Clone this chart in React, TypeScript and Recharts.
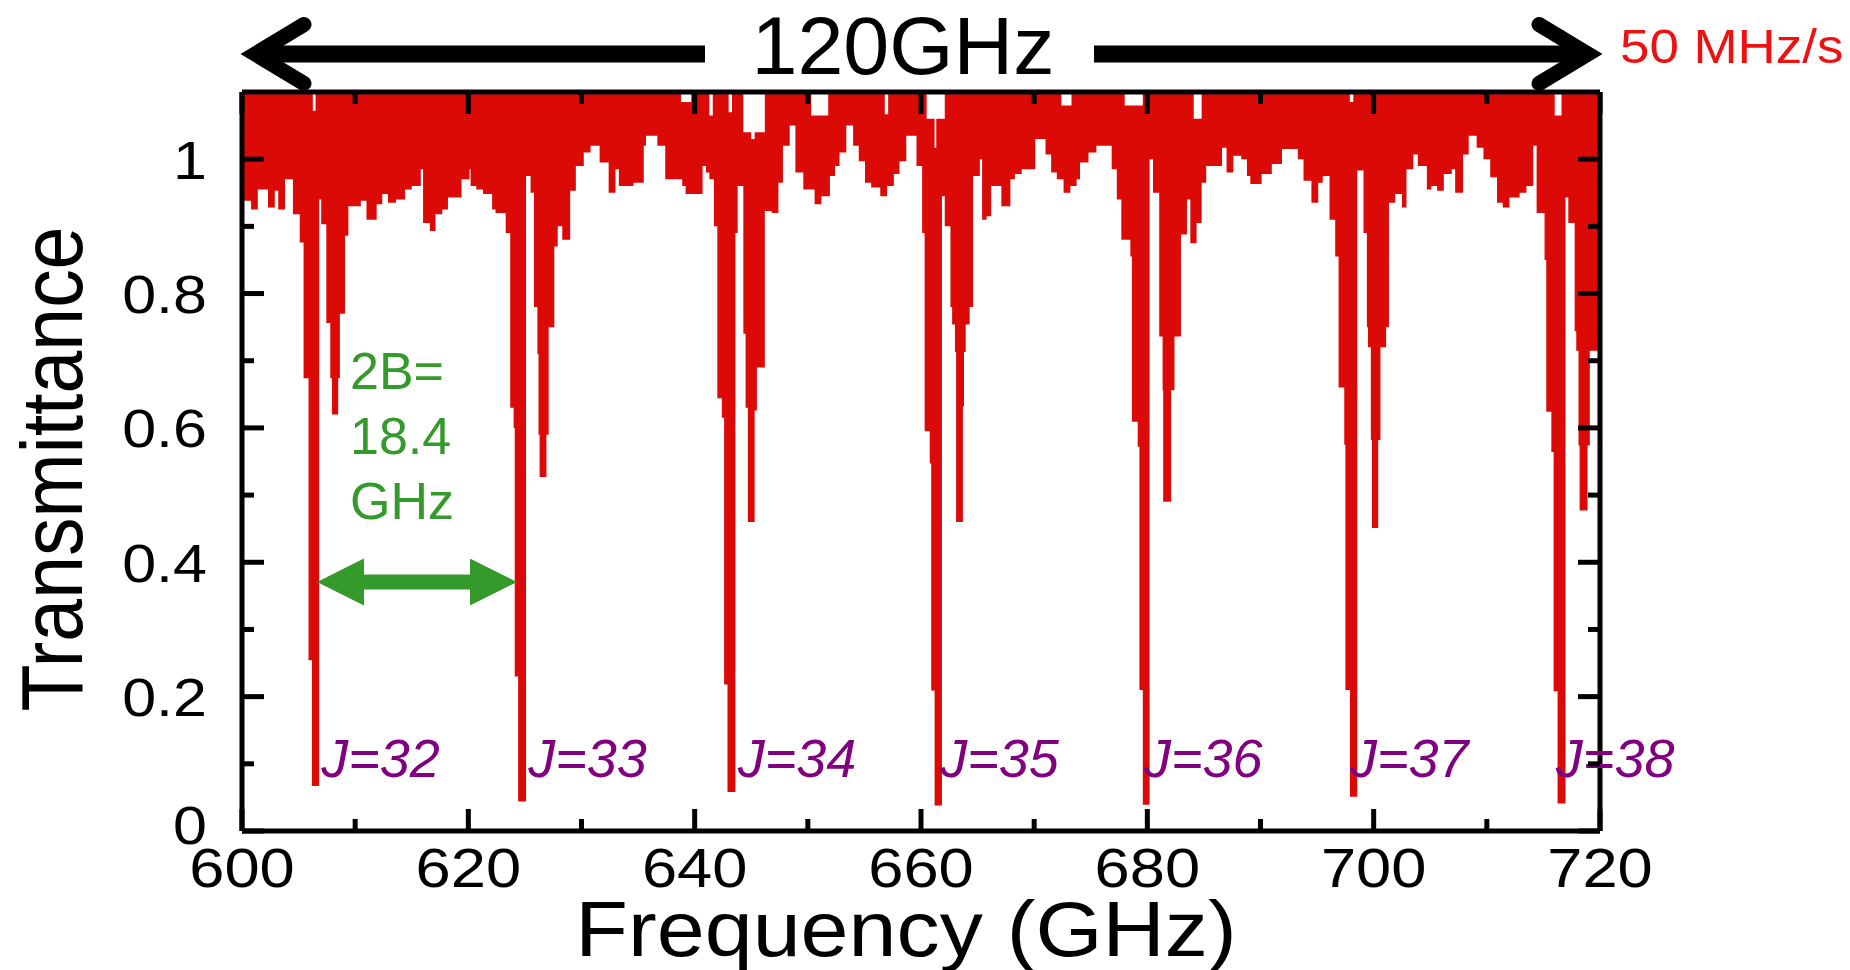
import React from "react";
import { AreaChart, Area, XAxis, YAxis, ReferenceDot } from "recharts";

// lower edge of the red band, as steps (GHz -> transmittance)
const dipFreqs = [
  600.0, 600.8, 601.4, 602.3, 602.9, 603.2, 603.8, 604.5, 605.1, 605.44, 605.88, 606.18, 606.82, 607.0, 607.45,
  607.8, 607.95, 608.5, 608.65, 609.1, 609.4, 610.5, 611.0, 611.9, 612.4, 612.9, 613.6, 614.4, 615.0, 615.8,
  616.0, 616.6, 617.1, 617.7, 618.2, 619.4, 620.1, 620.2, 620.7, 621.3, 622.1, 622.4, 623.3, 623.7, 624.0,
  624.1, 624.4, 625.1, 625.5, 625.8, 626.1, 626.2, 626.3, 626.9, 627.1, 627.6, 627.9, 628.3, 629.0, 629.5,
  630.2, 630.8, 631.6, 632.4, 633.0, 633.3, 634.6, 635.5, 635.7, 636.7, 637.4, 638.9, 639.2, 640.7, 641.0,
  641.3, 641.7, 642.0, 642.4, 642.6, 642.9, 643.6, 643.8, 644.3, 644.5, 644.7, 645.3, 645.5, 646.2, 646.8,
  647.4, 647.8, 648.4, 648.9, 649.6, 650.6, 651.2, 651.95, 652.4, 652.8, 653.4, 654.0, 654.5, 655.05, 655.6,
  656.4, 657.0, 657.6, 658.1, 658.7, 659.6, 660.1, 660.32, 660.77, 660.9, 661.2, 661.85, 662.1, 662.6, 662.75,
  663.0, 663.1, 663.7, 663.8, 663.95, 664.3, 664.6, 665.2, 665.4, 665.8, 666.2, 667.1, 667.9, 668.3, 668.9,
  670.1, 671.0, 671.5, 672.0, 672.6, 673.2, 673.75, 674.05, 674.8, 675.5, 676.85, 677.3, 677.7, 678.5, 678.64,
  679.15, 679.3, 679.6, 680.2, 680.5, 681.05, 681.35, 681.4, 682.1, 682.4, 682.97, 683.5, 683.8, 684.35, 684.8,
  685.2, 686.6, 687.0, 687.6, 688.3, 688.8, 689.1, 690.1, 691.0, 691.9, 693.3, 693.8, 694.5, 695.1, 695.5,
  696.1, 696.6, 696.9, 697.4, 697.5, 697.9, 698.55, 699.1, 699.4, 699.5, 699.75, 699.85, 700.4, 700.6, 701.1,
  701.35, 701.9, 702.5, 702.9, 703.5, 703.9, 704.7, 705.1, 705.6, 706.2, 706.9, 707.2, 707.9, 708.4, 709.1,
  709.7, 710.3, 710.9, 711.4, 712.0, 712.9, 713.5, 714.1, 714.4, 715.1, 715.25, 715.7, 715.9, 716.25, 716.95,
  717.2, 717.76, 717.9, 718.1, 718.2, 718.9, 719.1, 720.0,
];
const dipLevels = [
  0.938, 0.925, 0.955, 0.928, 0.953, 0.925, 0.97, 0.918, 0.876, 0.674, 0.254, 0.067, 0.94, 0.903, 0.756,
  0.674, 0.62, 0.674, 0.77, 0.886, 0.93, 0.938, 0.91, 0.933, 0.948, 0.935, 0.94, 0.955, 0.96, 0.985,
  0.905, 0.893, 0.918, 0.925, 0.943, 0.97, 0.985, 0.96, 0.955, 0.948, 0.925, 0.92, 0.89, 0.63, 0.6,
  0.23, 0.044, 0.975, 0.95, 0.78, 0.71, 0.59, 0.527, 0.59, 0.75, 0.87, 0.9, 0.88, 0.953, 0.99,
  1.01, 1.02, 0.995, 0.95, 0.985, 0.96, 0.965, 1.02, 1.035, 1.02, 0.97, 0.96, 0.948, 0.99, 0.98,
  0.97, 0.9, 0.644, 0.615, 0.218, 0.058, 0.89, 0.96, 0.74, 0.63, 0.46, 0.626, 0.69, 0.923, 0.92,
  0.965, 1.02, 1.05, 0.98, 0.955, 0.933, 0.945, 0.975, 0.99, 1.01, 1.05, 1.02, 0.997, 0.965, 0.958,
  0.945, 0.96, 0.978, 0.997, 1.035, 0.99, 0.89, 0.595, 0.547, 0.209, 0.038, 0.945, 0.9, 0.78, 0.754,
  0.713, 0.46, 0.632, 0.713, 0.754, 0.78, 0.975, 1.0, 0.91, 0.915, 0.96, 0.93, 0.97, 0.978, 0.985,
  1.03, 1.007, 0.98, 0.97, 0.95, 0.96, 0.97, 0.995, 1.01, 1.02, 0.985, 0.94, 0.88, 0.855, 0.609,
  0.572, 0.21, 0.039, 1.0, 0.95, 0.736, 0.656, 0.49, 0.656, 0.736, 0.888, 0.94, 0.875, 0.905, 0.965,
  0.99, 1.017, 0.98, 1.005, 1.0, 0.975, 0.963, 0.978, 0.993, 1.015, 1.0, 0.968, 0.935, 0.965, 0.975,
  0.91, 0.855, 0.66, 0.575, 0.21, 0.051, 0.983, 0.89, 0.75, 0.72, 0.582, 0.451, 0.582, 0.72, 0.75,
  0.935, 0.948, 0.928, 0.985, 1.007, 0.99, 0.955, 0.96, 0.953, 0.978, 0.985, 0.95, 1.007, 1.035, 1.017,
  1.0, 0.973, 0.935, 0.928, 0.943, 0.95, 0.96, 1.02, 0.92, 0.85, 0.624, 0.564, 0.208, 0.041, 0.943,
  0.905, 0.744, 0.715, 0.574, 0.477, 0.574, 0.715, 0.715,
];

// upper edge of the red band (mostly past the top of the frame)
const capFreqs = [
  600, 606.26, 606.5, 638.8, 639.7, 641.3, 641.6, 643.0, 643.3, 644.3, 645.0, 645.3, 646.2, 650.3, 651.8,
  656.8, 657.1, 660.5, 661.2, 661.35, 662.1, 672.4, 673.3, 678.0, 679.6, 684.1, 684.8, 697.9, 698.2, 716.0,
  716.6,
];
const capLevels = [
  1.1, 1.072, 1.1, 1.085, 1.1, 1.065, 1.1, 1.07, 1.1, 1.04, 1.03, 1.04, 1.1, 1.065, 1.1,
  1.067, 1.1, 1.06, 1.017, 1.06, 1.1, 1.08, 1.1, 1.08, 1.1, 1.06, 1.1, 1.085, 1.1, 1.065,
  1.1,
];

const xTicks = [600, 610, 620, 630, 640, 650, 660, 670, 680, 690, 700, 710, 720];
const yTicks = [0, 0.1, 0.2, 0.3, 0.4, 0.5, 0.6, 0.7, 0.8, 0.9, 1];

const jLabels = ["J=32", "J=33", "J=34", "J=35", "J=36", "J=37", "J=38"];
const jLabelFreqs = [607.0, 625.3, 643.8, 661.7, 679.7, 697.9, 716.1];
const jLabelLevel = 0.08;

const stepAt = (fs: number[], vs: number[], f: number) => {
  let v = vs[0];
  for (let i = 0; i < fs.length; i++) if (fs[i] <= f + 1e-9) v = vs[i];
  return v;
};
const grid = Array.from(new Set([...dipFreqs, ...capFreqs])).sort((a, b) => a - b);
const spectrum = grid.map((f) => ({
  freq: f,
  band: [stepAt(dipFreqs, dipLevels, f), stepAt(capFreqs, capLevels, f)],
}));

const FONT = "'Liberation Sans', Arial, sans-serif";
const RED = "#dc0a07";
const GREEN = "#349a2b";
const PURPLE = "#800080";
const W = 1842;
const H = 962;

function Stretch({ x, y, sx = 1, rot = 0, anchor = "start", size, color = "#000", italic = false, children }: any) {
  return (
    <text
      transform={`translate(${x},${y}) scale(${sx},1)${rot ? ` rotate(${rot})` : ""}`}
      textAnchor={anchor}
      fontSize={size}
      fill={color}
      fontFamily={FONT}
      fontStyle={italic ? "italic" : "normal"}
    >
      {children}
    </text>
  );
}

const isMajorX = (v: number) => Math.round(v) % 20 === 0;
const isMajorY = (v: number) => Math.round(v * 10) % 2 === 0;

const BottomTick = ({ x, y, payload }: any) => {
  const major = isMajorX(payload.value);
  return (
    <g>
      <line x1={x} y1={y} x2={x} y2={y - (major ? 22 : 12)} stroke="#000" strokeWidth={5} />
      {major && (
        <Stretch x={x} y={y + 56} sx={1.13} anchor="middle" size={56}>
          {String(payload.value)}
        </Stretch>
      )}
    </g>
  );
};

const TopTick = ({ x, y, payload }: any) => (
  <line x1={x} y1={y} x2={x} y2={y + (isMajorX(payload.value) ? 22 : 12)} stroke="#000" strokeWidth={5} />
);

const LeftTick = ({ x, y, payload }: any) => {
  const major = isMajorY(payload.value);
  // the "0" label sits a little above its tick in the original
  const lift = payload.value === 0 ? 7 : 0;
  return (
    <g>
      <line x1={x} y1={y} x2={x + (major ? 22 : 12)} y2={y} stroke="#000" strokeWidth={5} />
      {major && (
        <Stretch x={x - 35} y={y + 19.5 - lift} sx={1.13} anchor="end" size={54}>
          {String(payload.value)}
        </Stretch>
      )}
    </g>
  );
};

const RightTick = ({ x, y, payload }: any) => (
  <line x1={x} y1={y} x2={x - (isMajorY(payload.value) ? 22 : 12)} y2={y} stroke="#000" strokeWidth={5} />
);

export default function App() {
  return (
    <div style={{ position: "relative", width: W, height: H }}>
      <AreaChart width={W} height={H} data={spectrum} margin={{ top: 54, right: 220, bottom: 0, left: 0 }}>
        <Area
          dataKey="band"
          type="stepAfter"
          fill={RED}
          fillOpacity={1}
          stroke="none"
          dot={false}
          activeDot={false}
          isAnimationActive={false}
        />
        <XAxis
          dataKey="freq"
          type="number"
          domain={[600, 720]}
          ticks={xTicks}
          allowDataOverflow
          height={139}
          tickSize={0}
          tickMargin={0}
          tickLine={false}
          axisLine={{ stroke: "#000", strokeWidth: 5 }}
          tick={<BottomTick />}
          interval={0}
        />
        <XAxis
          xAxisId="top"
          orientation="top"
          dataKey="freq"
          type="number"
          domain={[600, 720]}
          ticks={xTicks}
          allowDataOverflow
          height={30}
          tickSize={0}
          tickMargin={0}
          tickLine={false}
          axisLine={{ stroke: "#000", strokeWidth: 5 }}
          tick={<TopTick />}
          interval={0}
        />
        <YAxis
          type="number"
          domain={[0, 1.1]}
          ticks={yTicks}
          allowDataOverflow
          width={234}
          tickSize={0}
          tickMargin={0}
          tickLine={false}
          axisLine={{ stroke: "#000", strokeWidth: 5 }}
          tick={<LeftTick />}
          interval={0}
        />
        <YAxis
          yAxisId="right"
          orientation="right"
          type="number"
          domain={[0, 1.1]}
          ticks={yTicks}
          allowDataOverflow
          width={30}
          tickSize={0}
          tickMargin={0}
          tickLine={false}
          axisLine={{ stroke: "#000", strokeWidth: 5 }}
          tick={<RightTick />}
          interval={0}
        />
        {jLabels.map((label, i) => (
          <ReferenceDot
            key={label}
            x={jLabelFreqs[i]}
            y={jLabelLevel}
            r={0}
            shape={(p: any) => (
              <text x={p.cx} y={p.cy} fontSize={54} fontStyle="italic" fill={PURPLE} fontFamily={FONT}>
                {label}
              </text>
            )}
          />
        ))}
      </AreaChart>

      <svg
        width={W}
        height={H}
        style={{ position: "absolute", left: 0, top: 0, pointerEvents: "none", overflow: "visible" }}
      >
        {/* span arrow */}
        <line x1={250} y1={46} x2={697} y2={46} stroke="#000" strokeWidth={17} />
        <polyline
          points="296,16.5 247,46 296,75.5"
          fill="none"
          stroke="#000"
          strokeWidth={15}
          strokeLinecap="round"
          strokeLinejoin="miter"
          strokeMiterlimit={10}
        />
        <line x1={1086} y1={46} x2={1577} y2={46} stroke="#000" strokeWidth={17} />
        <polyline
          points="1531,16.5 1580,46 1531,75.5"
          fill="none"
          stroke="#000"
          strokeWidth={15}
          strokeLinecap="round"
          strokeLinejoin="miter"
          strokeMiterlimit={10}
        />
        <Stretch x={895} y={66} sx={1.02} anchor="middle" size={81}>
          120GHz
        </Stretch>
        <Stretch x={1612} y={55} sx={1.08} size={49} color="#ee1111">
          50 MHz/s
        </Stretch>

        {/* 2B spacing */}
        <Stretch x={342} y={381} size={52} color={GREEN}>2B=</Stretch>
        <Stretch x={342} y={446} size={52} color={GREEN}>18.4</Stretch>
        <Stretch x={342} y={511} size={52} color={GREEN}>GHz</Stretch>
        <polygon
          points="309,574 356,550.5 356,566.5 462,566.5 462,550.5 509,574 462,597.5 462,581.5 356,581.5 356,597.5"
          fill={GREEN}
        />

        {/* axis titles */}
        <Stretch x={74} y={461} sx={1.13} rot={-90} anchor="middle" size={77}>
          Transmittance
        </Stretch>
        <Stretch x={898} y={948} sx={1.12} anchor="middle" size={77}>
          Frequency (GHz)
        </Stretch>
      </svg>
    </div>
  );
}
